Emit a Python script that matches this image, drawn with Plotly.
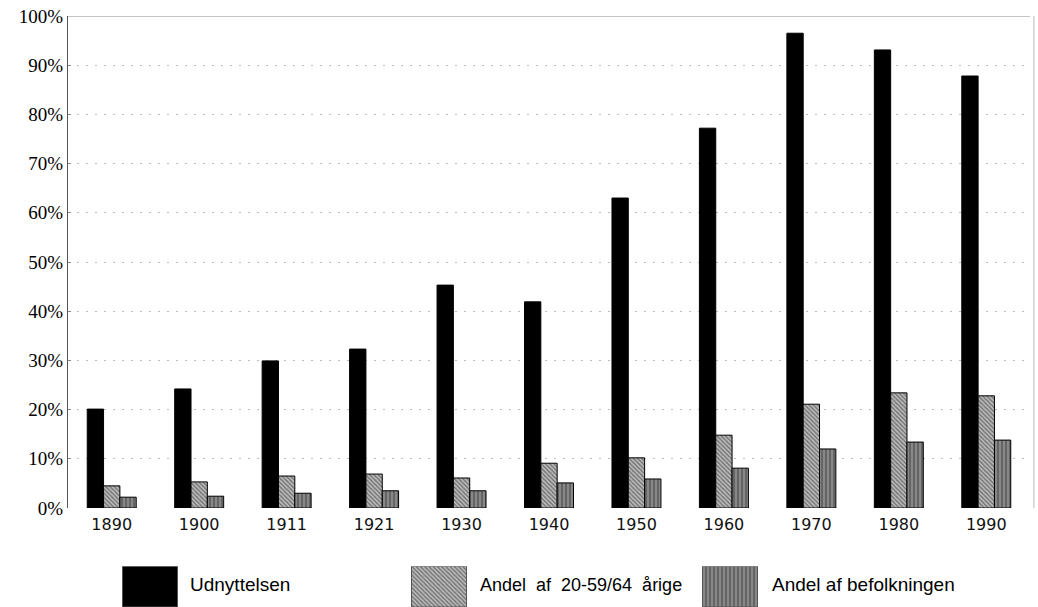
import plotly.graph_objects as go

years = ["1890", "1900", "1911", "1921", "1930", "1940", "1950", "1960", "1970", "1980", "1990"]
udnyttelsen = [20.1, 24.2, 29.9, 32.3, 45.3, 41.9, 63.0, 77.2, 96.5, 93.1, 87.8]
andel_20_59 = [4.5, 5.3, 6.5, 6.9, 6.1, 9.1, 10.2, 14.8, 21.1, 23.4, 22.8]
andel_befolk = [2.2, 2.4, 3.0, 3.5, 3.5, 5.1, 5.9, 8.1, 12.0, 13.4, 13.8]
y_ticks = list(range(0, 101, 10))
y_labels = [f"{v}%" for v in y_ticks]
legend_names = ["Udnyttelsen", "Andel af 20-59/64 årige", "Andel af befolkningen"]

styles = [
    dict(color="#000000", pattern=None),
    dict(color="#b0b0b0", pattern=dict(shape="\\", bgcolor="#bcbcbc", fgcolor="#222222", size=3, solidity=0.45)),
    dict(color="#777777", pattern=dict(shape="|", bgcolor="#888888", fgcolor="#2e2e2e", size=4, solidity=0.4)),
]
series = [udnyttelsen, andel_20_59, andel_befolk]

fig = go.Figure()
for name, vals, st in zip(legend_names, series, styles):
    marker = dict(color=st["color"], line=dict(color="#000000", width=1))
    if st["pattern"]:
        marker["pattern"] = st["pattern"]
    fig.add_trace(go.Bar(x=years, y=vals, name=name, marker=marker, showlegend=False,
                         xaxis="x", yaxis="y"))

# custom legend swatches (large boxes) on a helper axis in the bottom strip
legend_pos = [150, 439, 730]
legend_text_x = [188, 478, 770]
legend_font = [19, 18, 19]
legend_labels = [n.replace(" ", "\u00a0\u00a0") if i == 1 else n for i, n in enumerate(legend_names)]
for name, st, px in zip(legend_names, styles, legend_pos):
    marker = dict(color=st["color"], line=dict(color="#555555", width=1))
    if st["pattern"]:
        marker["pattern"] = st["pattern"]
    fig.add_trace(go.Bar(x=[px], y=[1], width=[55], marker=marker, showlegend=False,
                         xaxis="x2", yaxis="y2", hoverinfo="skip"))

annotations = []
for name, tx, fs in zip(legend_labels, legend_text_x, legend_font):
    annotations.append(dict(x=tx, y=0.55, xref="x2", yref="y2", text=name, showarrow=False,
                            xanchor="left", yanchor="middle",
                            font=dict(family="Liberation Sans, Arial, sans-serif", size=fs, color="#000")))

main_bottom = (607 - 508) / 591

fig.update_layout(
    width=1038, height=607,
    margin=dict(l=68, r=8, t=16, b=0),
    paper_bgcolor="white", plot_bgcolor="white",
    barmode="group", bargap=0.44, bargroupgap=0,
    xaxis=dict(domain=[0, 1], anchor="y", showline=False, showgrid=False, automargin=False,
               ticks="outside", ticklen=2, tickcolor="rgba(0,0,0,0)",
               tickfont=dict(family="DejaVu Sans, sans-serif", size=16, color="#111"),
               categoryorder="array", categoryarray=years),
    yaxis=dict(domain=[main_bottom, 1], anchor="x", range=[0, 100], tickvals=y_ticks, ticktext=y_labels,
               automargin=False,
               showline=True, linecolor="#555", linewidth=1, ticks="inside", ticklen=3, tickcolor="#888",
               showgrid=True, gridcolor="#bdbdbd", griddash="2px,7px", gridwidth=1, zeroline=False,
               tickfont=dict(family="Liberation Serif, Times New Roman, serif", size=19, color="#000")),
    xaxis2=dict(domain=[0, 1], anchor="y2", range=[68, 1030], visible=False),
    yaxis2=dict(domain=[0, 0.069], anchor="x2", range=[0, 1], visible=False),
    annotations=annotations,
    shapes=[
        dict(type="line", xref="paper", yref="y", x0=0, x1=1, y0=100, y1=100,
             line=dict(color="#888", width=1)),
        dict(type="line", xref="paper", yref="y", x0=1.004, x1=1.004, y0=0, y1=100,
             line=dict(color="#bbb", width=1)),
    ],
    showlegend=False,
)

fig.write_html("out.html", config={"displayModeBar": False},
               post_script="document.body.style.margin='0';document.body.style.overflow='hidden';")
